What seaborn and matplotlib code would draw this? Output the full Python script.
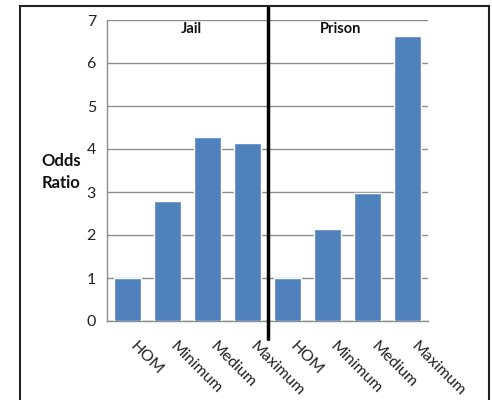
import matplotlib
matplotlib.use("Agg")
import matplotlib.pyplot as plt
import matplotlib.patches as mpatches
import matplotlib.transforms as mtransforms
import seaborn as sns
import pandas as pd

groups = ["Jail", "Jail", "Jail", "Jail", "Prison", "Prison", "Prison", "Prison"]
categories = ["HOM", "Minimum", "Medium", "Maximum", "HOM", "Minimum", "Medium", "Maximum"]
odds_ratio = [1.0, 2.80, 4.27, 4.13, 1.0, 2.13, 2.97, 6.63]
yticks = [0, 1, 2, 3, 4, 5, 6, 7]

sns.set_theme(style="white")
plt.rcParams['font.family'] = ['Lato', 'DejaVu Sans']

df = pd.DataFrame({"key": [f"{g}-{c}" for g, c in zip(groups, categories)],
                   "label": categories, "value": odds_ratio})

fig = plt.figure(figsize=(4.92, 4.0), dpi=100)
ax = fig.add_axes([107/492, 1-321/400, (428-107)/492, (321-20)/400])

sns.barplot(data=df, x="key", y="value", color="#4F81BD", saturation=1,
            width=0.675, ax=ax, zorder=3)

ax.set_ylim(0, 7)
ax.set_xlim(-0.5, 7.5)
ax.set_yticks(yticks)
ax.set_yticklabels([str(t) for t in yticks], fontsize=11.5, color="#222222")
ax.yaxis.grid(True, color="#8c8c8c", linewidth=1.0, zorder=0)
ax.set_axisbelow(True)

ax.set_xticks(range(len(categories)))
ax.set_xticklabels(categories, rotation=-45, ha="left", va="top",
                   rotation_mode="anchor", fontsize=11.5, color="#222222")
ax.tick_params(axis="x", which="major", length=0, pad=13)
offset = mtransforms.ScaledTranslation(10/100, 0, fig.dpi_scale_trans)
for lab in ax.get_xticklabels():
    lab.set_transform(lab.get_transform() + offset)
ax.set_xticks([i - 0.5 for i in range(len(categories) + 1)], minor=True)
ax.tick_params(axis="x", which="minor", length=5, color="#8c8c8c", width=1, direction="out")
ax.tick_params(axis="y", length=5, color="#8c8c8c", width=1, direction="out", pad=3)
ax.set_xlabel("")
ax.set_ylabel("")

for s in ["top", "right"]:
    ax.spines[s].set_visible(False)
for s in ["left", "bottom"]:
    ax.spines[s].set_color("#8c8c8c")
    ax.spines[s].set_linewidth(1)

# divider line
ax.plot([3.5, 3.5], [-0.43, 7.3], color="black", linewidth=2.5, clip_on=False, zorder=5)

# group titles
ax.text(1.6, 6.78, "Jail", ha="center", va="center", fontsize=10.5, fontweight="bold", color="#111111")
ax.text(5.33, 6.78, "Prison", ha="center", va="center", fontsize=10.5, fontweight="bold", color="#111111")

# y label
fig.text(61/492, 1-172/400, "Odds\nRatio", ha="center", va="center", fontsize=12,
         fontweight="bold", linespacing=1.45, color="#111111")

# figure frame
frame = mpatches.Rectangle((20/492, -0.05), (489-20)/492, 1.05 - 6/400,
                           transform=fig.transFigure, fill=False,
                           edgecolor="#222222", linewidth=1.5)
fig.patches.append(frame)

fig.savefig("out.png", dpi=100)
